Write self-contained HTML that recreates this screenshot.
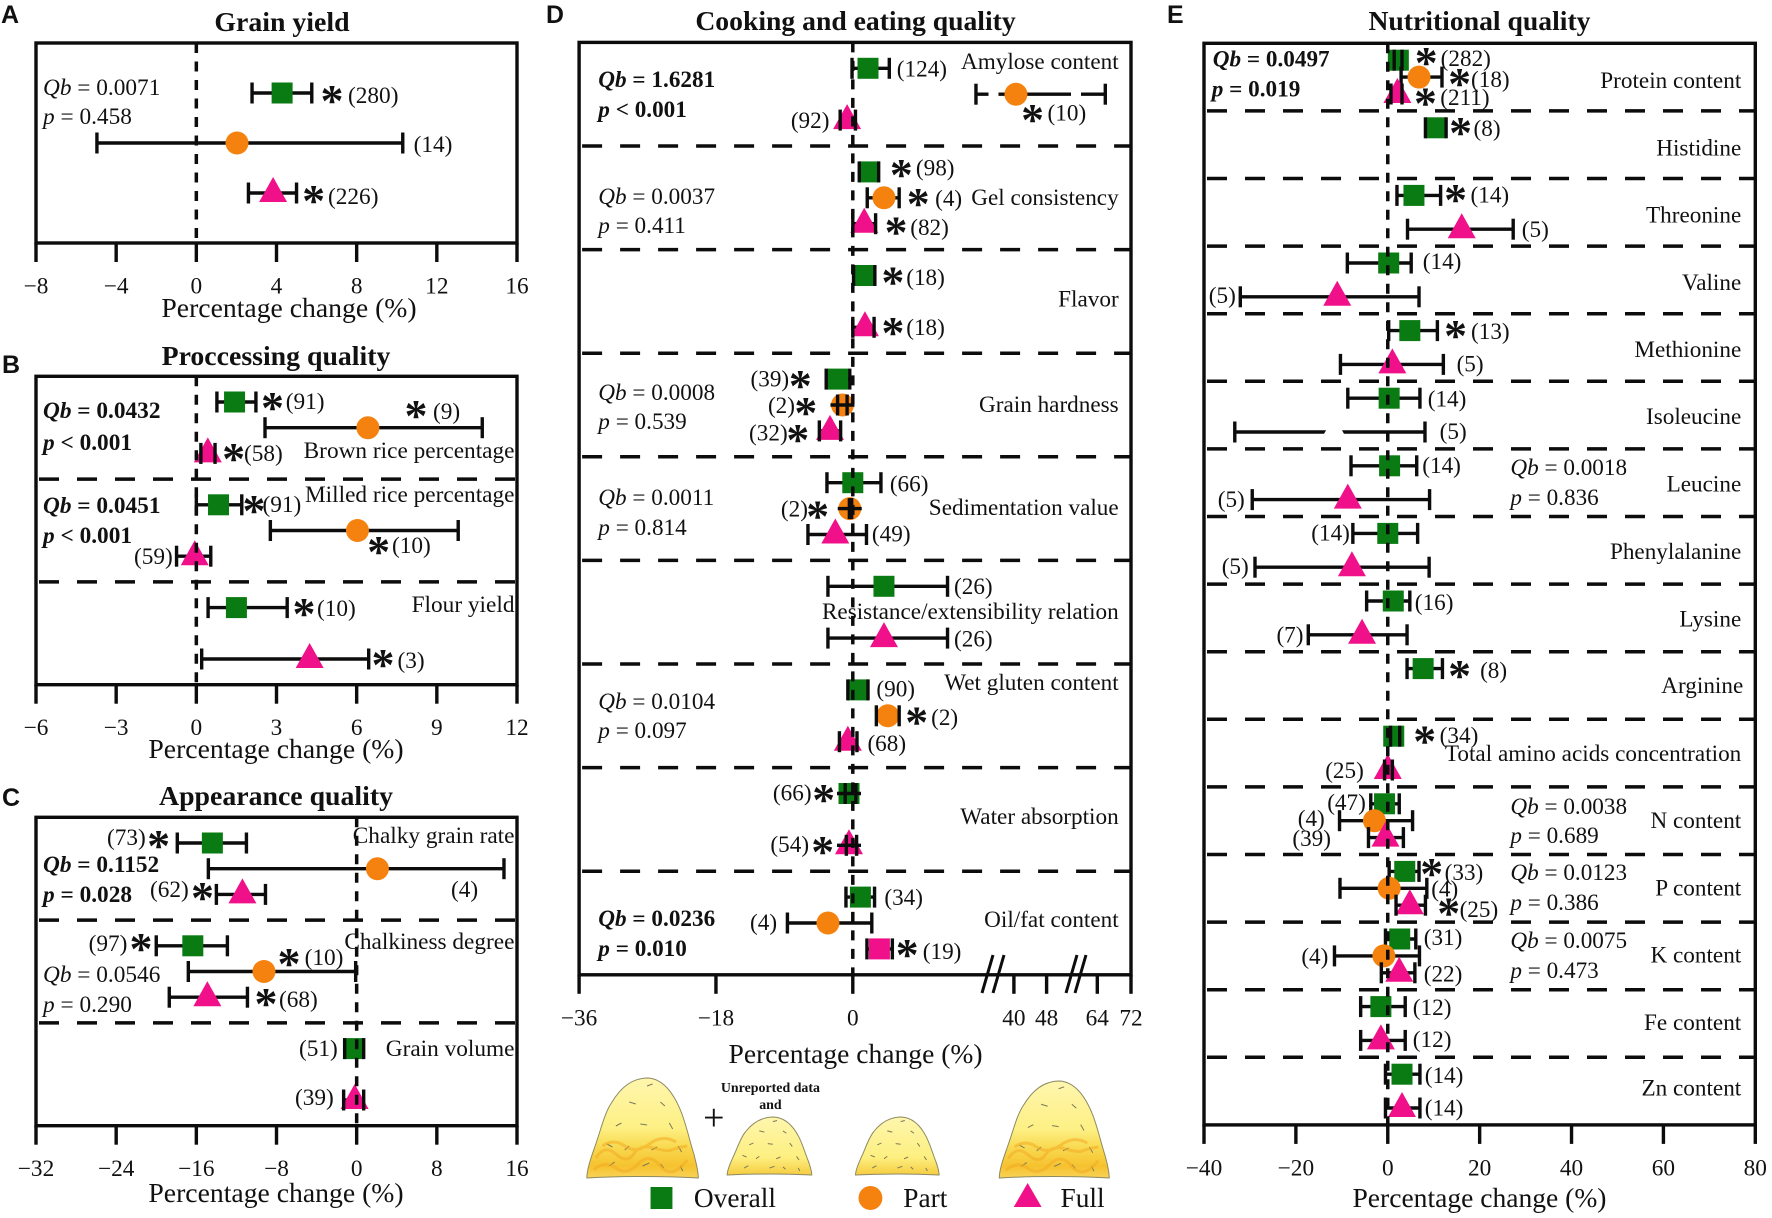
<!DOCTYPE html>
<html lang="en">
<head>
<meta charset="utf-8">
<title>Percentage change in rice quality traits</title>
<style>
html,body{margin:0;padding:0;background:#fff}
svg{display:block;font-family:"Liberation Serif",serif;fill:#111}
text{font-size:23.3px}
.title{font-size:27.8px;font-weight:bold;text-anchor:middle}
.axt{font-size:27.7px;text-anchor:middle}
.tick{text-anchor:middle}
.letter{font-family:"Liberation Sans",sans-serif;font-weight:bold;font-size:25px}
.c{text-anchor:end}
.s{font-family:"Liberation Serif",serif;font-size:46px;text-anchor:middle;font-weight:bold;transform:translateY(21px)}
.b{font-weight:bold}
.i{font-style:italic}
.leg{font-size:27.5px}
</style>
</head>
<body>
<svg id="figure" xmlns="http://www.w3.org/2000/svg" width="1772" height="1218" viewBox="0 0 1772 1218">
<defs>
<linearGradient id="bigFill" x1="0" y1="0" x2="0" y2="1"><stop offset="0" stop-color="#fef6ae"/><stop offset=".5" stop-color="#fdf084"/><stop offset=".68" stop-color="#f9da52"/><stop offset=".88" stop-color="#f6c22f"/><stop offset="1" stop-color="#f8d256"/></linearGradient>
<linearGradient id="smallFill" x1="0" y1="0" x2="0" y2="1"><stop offset="0" stop-color="#fef6ae"/><stop offset=".7" stop-color="#fdef80"/><stop offset="1" stop-color="#f6cc40"/></linearGradient>
<g id="mound"><path d="M0,100 C0,90 5,76 8,66 C13,50 16,35 22,25 C30,10 40,0 55,0 C68,1 78,15 85,35 C90,50 93,66 96,76 C98,85 100,92 100,100 C70,98 30,98 0,100 Z" stroke="#8d8a62" stroke-width="1" vector-effect="non-scaling-stroke"/><path d="M54,8l5,-2M38,24l6,2M66,24l4,4M26,48l5,-3M74,45l3,6M48,46l6,1M18,66l5,3M34,72l4,-4M58,72l5,-3M82,68l3,6M20,88l5,-4M50,88l6,-3M84,88l2,5M66,86l3,4" fill="none" stroke="#7d7a58" stroke-width="1" vector-effect="non-scaling-stroke"/></g>
<g id="moundTexture"><path d="M8,80q8,-14 18,-4t16,0t18,-6t16,2t14,-4M6,92q10,-10 20,-2t20,-4t20,2t24,-6M14,68q10,-8 20,0t22,-2t24,-2" fill="none" stroke="#f2ab22" stroke-width="3" stroke-opacity=".55" vector-effect="non-scaling-stroke"/></g>
</defs>

<g id="panelA"></g>
<g id="panelB"></g>
<g id="panelC"></g>
<g id="panelD"></g>
<g id="panelE"></g>

<!-- Panel A -->
<text class="letter" x="1" y="23">A</text>
<text class="title" x="282" y="31">Grain yield</text>
<text class="axt" x="289" y="317">Percentage change (%)</text>
<text x="43" y="95"><tspan class="i">Qb</tspan> = 0.0071</text>
<text x="43" y="124"><tspan class="i">p</tspan> = 0.458</text>
<text class="s" x="332" y="95">*</text>
<text x="348" y="103">(280)</text>
<text x="413.6" y="152">(14)</text>
<text class="s" x="313.6" y="195">*</text>
<text x="328" y="204">(226)</text>

<!-- Panel B -->
<text class="letter" x="2" y="373">B</text>
<text class="title" x="276" y="365">Proccessing quality</text>
<text class="axt" x="276" y="758">Percentage change (%)</text>
<text class="b" x="43" y="418"><tspan class="i">Qb</tspan> = 0.0432</text>
<text class="b" x="43" y="450"><tspan class="i">p</tspan> &lt; 0.001</text>
<text class="b" x="43" y="513"><tspan class="i">Qb</tspan> = 0.0451</text>
<text class="b" x="43" y="543"><tspan class="i">p</tspan> &lt; 0.001</text>
<text class="c" x="514.5" y="458">Brown rice percentage</text>
<text class="c" x="514.5" y="502">Milled rice percentage</text>
<text class="c" x="514.5" y="612">Flour yield</text>
<text class="s" x="272.5" y="402">*</text>
<text x="285.7" y="409">(91)</text>
<text class="s" x="416" y="410">*</text>
<text x="433" y="419">(9)</text>
<text class="s" x="233.6" y="453">*</text>
<text x="244" y="461">(58)</text>
<text class="s" x="254" y="505">*</text>
<text x="262.5" y="512">(91)</text>
<text class="s" x="378.6" y="546">*</text>
<text x="392" y="553">(10)</text>
<text x="134" y="564">(59)</text>
<text class="s" x="304" y="608">*</text>
<text x="317" y="616">(10)</text>
<text class="s" x="383" y="659">*</text>
<text x="397.5" y="668">(3)</text>

<!-- Panel C -->
<text class="letter" x="2" y="806">C</text>
<text class="title" x="276" y="805">Appearance quality</text>
<text class="axt" x="276" y="1202">Percentage change (%)</text>
<text class="b" x="43" y="872"><tspan class="i">Qb</tspan> = 0.1152</text>
<text class="b" x="43" y="902"><tspan class="i">p</tspan> = 0.028</text>
<text x="43" y="982"><tspan class="i">Qb</tspan> = 0.0546</text>
<text x="43" y="1012"><tspan class="i">p</tspan> = 0.290</text>
<text class="c" x="514.5" y="843">Chalky grain rate</text>
<text class="c" x="514.5" y="949">Chalkiness degree</text>
<text class="c" x="514.5" y="1056">Grain volume</text>
<text x="107" y="845">(73)</text>
<text class="s" x="158.6" y="840">*</text>
<text x="451" y="897">(4)</text>
<text x="150" y="897">(62)</text>
<text class="s" x="202.5" y="892">*</text>
<text x="88.6" y="951">(97)</text>
<text class="s" x="141" y="943">*</text>
<text class="s" x="289" y="958">*</text>
<text x="304.6" y="965">(10)</text>
<text class="s" x="266" y="998">*</text>
<text x="279" y="1007">(68)</text>
<text x="299" y="1056">(51)</text>
<text x="295" y="1105">(39)</text>

<!-- Panel D -->
<g transform="translate(2.8,0) scale(.995,1)">
<text class="letter" x="546" y="23">D</text>
<text class="title" x="857" y="30">Cooking and eating quality</text>
<text class="axt" x="857" y="1063">Percentage change (%)</text>
<text class="b" x="598.5" y="87"><tspan class="i">Qb</tspan> = 1.6281</text>
<text class="b" x="598.5" y="117"><tspan class="i">p</tspan> &lt; 0.001</text>
<text x="598.5" y="204"><tspan class="i">Qb</tspan> = 0.0037</text>
<text x="598.5" y="233"><tspan class="i">p</tspan> = 0.411</text>
<text x="598.5" y="400"><tspan class="i">Qb</tspan> = 0.0008</text>
<text x="598.5" y="429"><tspan class="i">p</tspan> = 0.539</text>
<text x="598.5" y="505"><tspan class="i">Qb</tspan> = 0.0011</text>
<text x="598.5" y="535"><tspan class="i">p</tspan> = 0.814</text>
<text x="598.5" y="709"><tspan class="i">Qb</tspan> = 0.0104</text>
<text x="598.5" y="738"><tspan class="i">p</tspan> = 0.097</text>
<text class="b" x="598.5" y="926"><tspan class="i">Qb</tspan> = 0.0236</text>
<text class="b" x="598.5" y="956"><tspan class="i">p</tspan> = 0.010</text>
<text class="c" x="1121.5" y="69">Amylose content</text>
<text class="c" x="1121.5" y="205">Gel consistency</text>
<text class="c" x="1121.5" y="306.7">Flavor</text>
<text class="c" x="1121.5" y="412">Grain hardness</text>
<text class="c" x="1121.5" y="515">Sedimentation value</text>
<text class="c" x="1121.5" y="619">Resistance/extensibility relation</text>
<text class="c" x="1121.5" y="690">Wet gluten content</text>
<text class="c" x="1121.5" y="824">Water absorption</text>
<text class="c" x="1121.5" y="927">Oil/fat content</text>
<text x="898.5" y="76.7">(124)</text>
<text class="s" x="1035" y="114">*</text>
<text x="1050" y="120.7">(10)</text>
<text x="792" y="128">(92)</text>
<text class="s" x="903" y="169">*</text>
<text x="917.7" y="175.7">(98)</text>
<text class="s" x="920" y="198">*</text>
<text x="937" y="206">(4)</text>
<text class="s" x="897.7" y="226.7">*</text>
<text x="912" y="235">(82)</text>
<text class="s" x="894.6" y="276.7">*</text>
<text x="908" y="285">(18)</text>
<text class="s" x="894.6" y="327">*</text>
<text x="908" y="335">(18)</text>
<text x="751.5" y="386.7">(39)</text>
<text class="s" x="801.5" y="380">*</text>
<text x="769" y="413">(2)</text>
<text class="s" x="807" y="407">*</text>
<text x="750" y="440.7">(32)</text>
<text class="s" x="799" y="434">*</text>
<text x="891.5" y="491.7">(66)</text>
<text x="782" y="516.7">(2)</text>
<text class="s" x="819" y="510.7">*</text>
<text x="873.5" y="541.7">(49)</text>
<text x="956" y="594">(26)</text>
<text x="956" y="646.7">(26)</text>
<text x="878" y="696.7">(90)</text>
<text class="s" x="918.5" y="716.7">*</text>
<text x="933" y="725">(2)</text>
<text x="869" y="751">(68)</text>
<text x="774" y="800.7">(66)</text>
<text class="s" x="825" y="794">*</text>
<text x="771.5" y="852">(54)</text>
<text class="s" x="824" y="846">*</text>
<text x="886" y="905">(34)</text>
<text x="751" y="930">(4)</text>
<text class="s" x="909" y="949">*</text>
<text x="924.6" y="959">(19)</text>

<!-- Illustration and legend -->
<g>
<g transform="translate(587,1078) scale(1.12,1)" fill="url(#bigFill)"><use href="#mound"/><use href="#moundTexture"/></g>
<g transform="translate(728,1117) scale(.85,.58)" fill="url(#smallFill)"><use href="#mound"/></g>
<g transform="translate(857,1117) scale(.84,.58)" fill="url(#smallFill)"><use href="#mound"/></g>
<g transform="translate(1001.5,1081) scale(1.105,.97)" fill="url(#bigFill)"><use href="#mound"/><use href="#moundTexture"/></g>
</g>
<text x="714.6" y="1130" style="font-size:38px;text-anchor:middle">+</text>
<text x="771.5" y="1092" style="font-size:14px;font-weight:bold;text-anchor:middle">Unreported data</text>
<text x="771.5" y="1109" style="font-size:14px;font-weight:bold;text-anchor:middle">and</text>
<rect x="651" y="1187" width="22" height="22" fill="#0a7a12"/>
<text class="leg" x="694.6" y="1207">Overall</text>
<circle cx="872" cy="1198" r="12" fill="#f5820f"/>
<text class="leg" x="905" y="1207">Part</text>
<polygon points="1030,1183 1044,1207 1016,1207" fill="#f0108a"/>
<text class="leg" x="1063" y="1207">Full</text>
</g>

<!-- Panel E -->
<g transform="translate(5.45,0) scale(.9953,1)">
<text class="letter" x="1167" y="23">E</text>
<text class="title" x="1481" y="30">Nutritional quality</text>
<text class="axt" x="1481" y="1207">Percentage change (%)</text>
<text class="b" x="1213" y="66.7"><tspan class="i">Qb</tspan> = 0.0497</text>
<text class="b" x="1212" y="96.7"><tspan class="i">p</tspan> = 0.019</text>
<text x="1512" y="475"><tspan class="i">Qb</tspan> = 0.0018</text>
<text x="1512" y="505"><tspan class="i">p</tspan> = 0.836</text>
<text x="1512" y="814"><tspan class="i">Qb</tspan> = 0.0038</text>
<text x="1512" y="843"><tspan class="i">p</tspan> = 0.689</text>
<text x="1512" y="880"><tspan class="i">Qb</tspan> = 0.0123</text>
<text x="1512" y="910"><tspan class="i">p</tspan> = 0.386</text>
<text x="1512" y="948"><tspan class="i">Qb</tspan> = 0.0075</text>
<text x="1512" y="978"><tspan class="i">p</tspan> = 0.473</text>
<text class="c" x="1744" y="88">Protein content</text>
<text class="c" x="1744" y="155.7">Histidine</text>
<text class="c" x="1744" y="222.7">Threonine</text>
<text class="c" x="1744" y="290">Valine</text>
<text class="c" x="1744" y="357">Methionine</text>
<text class="c" x="1744" y="424">Isoleucine</text>
<text class="c" x="1744" y="491.7">Leucine</text>
<text class="c" x="1744" y="559">Phenylalanine</text>
<text class="c" x="1744" y="626.7">Lysine</text>
<text class="c" x="1746" y="693">Arginine</text>
<text class="c" x="1744" y="761">Total amino acids concentration</text>
<text class="c" x="1744" y="828">N content</text>
<text class="c" x="1744" y="895.7">P content</text>
<text class="c" x="1744" y="962.7">K content</text>
<text class="c" x="1744" y="1030">Fe content</text>
<text class="c" x="1744" y="1095.7">Zn content</text>
<text class="s" x="1427.5" y="57">*</text>
<text x="1442" y="66">(282)</text>
<text class="s" x="1461" y="78">*</text>
<text x="1472.5" y="87">(18)</text>
<text class="s" x="1426.7" y="97.7">*</text>
<text x="1441.6" y="105">(211)</text>
<text class="s" x="1462" y="127">*</text>
<text x="1475" y="136">(8)</text>
<text class="s" x="1457" y="194">*</text>
<text x="1472" y="202.7">(14)</text>
<text x="1523.5" y="237">(5)</text>
<text x="1424" y="269">(14)</text>
<text x="1209" y="303">(5)</text>
<text class="s" x="1457" y="330">*</text>
<text x="1472.5" y="339">(13)</text>
<text x="1458" y="371.7">(5)</text>
<text x="1429" y="406.7">(14)</text>
<text x="1441" y="439">(5)</text>
<text x="1423.5" y="473">(14)</text>
<text x="1218" y="507">(5)</text>
<text x="1312" y="540.7">(14)</text>
<text x="1222" y="574">(5)</text>
<text x="1416" y="610">(16)</text>
<text x="1277" y="642.7">(7)</text>
<text class="s" x="1461" y="670">*</text>
<text x="1481.6" y="678">(8)</text>
<text class="s" x="1426" y="735.7">*</text>
<text x="1441" y="743">(34)</text>
<text x="1326" y="778">(25)</text>
<text x="1328" y="810">(47)</text>
<text x="1298.4" y="826">(4)</text>
<text x="1293" y="846">(39)</text>
<text class="s" x="1433" y="868">*</text>
<text x="1446" y="880">(33)</text>
<text x="1432.5" y="896.7">(4)</text>
<text class="s" x="1450" y="907.7">*</text>
<text x="1461" y="917">(25)</text>
<text x="1425" y="945">(31)</text>
<text x="1302" y="964">(4)</text>
<text x="1425" y="981.7">(22)</text>
<text x="1414" y="1015">(12)</text>
<text x="1414" y="1047">(12)</text>
<text x="1426" y="1083">(14)</text>
<text x="1426" y="1115.7">(14)</text>
</g>
</svg>

<script>
/* ---------- Panel A: grain yield ---------- */
const aCategories = ['Grain yield'];
const aTicks = [-8, -4, 0, 4, 8, 12, 16];
const aOverallMean = [4.28];
const aOverallLow = [2.78];
const aOverallHigh = [5.76];
const aPartMean = [2.03];
const aPartLow = [-4.96];
const aPartHigh = [10.3];
const aFullMean = [3.83];
const aFullLow = [2.6];
const aFullHigh = [5.0];

/* ---------- Panel B: processing quality ---------- */
const bCategories = ['Brown rice percentage', 'Milled rice percentage', 'Flour yield'];
const bTicks = [-6, -3, 0, 3, 6, 9, 12];
const bOverallMean = [1.43, 0.83, 1.5];
const bOverallLow = [0.77, 0, 0.44];
const bOverallHigh = [2.23, 1.7, 3.4];
const bPartMean = [6.42, 6.03, null];
const bPartLow = [2.57, 2.77, null];
const bPartHigh = [10.7, 9.8, null];
const bFullMean = [0.43, -0.06, 4.24];
const bFullLow = [0.17, -0.74, 0.2];
const bFullHigh = [0.7, 0.54, 6.45];

/* ---------- Panel C: appearance quality ---------- */
const cCategories = ['Chalky grain rate', 'Chalkiness degree', 'Grain volume'];
const cTicks = [-32, -24, -16, -8, 0, 8, 16];
const cOverallMean = [-14.4, -16.35, -0.3];
const cOverallLow = [-17.9, -20, -1.2];
const cOverallHigh = [-11, -12.9, 0.7];
const cPartMean = [2.07, -9.25, null];
const cPartLow = [-14.8, -16.8, null];
const cPartHigh = [14.7, -0.1, null];
const cFullMean = [-11.4, -14.9, -0.2];
const cFullLow = [-14, -18.7, -1.3];
const cFullHigh = [-9.1, -10.9, 0.7];

/* ---------- Panel D: cooking and eating quality (broken axis) ---------- */
const dCategories = ['Amylose content', 'Gel consistency', 'Flavor', 'Grain hardness', 'Sedimentation value', 'Resistance/extensibility relation', 'Wet gluten content', 'Water absorption', 'Oil/fat content'];
const dTicks = [-36, -18, 0, 40, 48, 64, 72];
const dOverallMean = [2, 2.2, 1.6, -2, 0, 4.1, 0.75, -0.5, 1];
const dOverallLow = [-0.1, 0.85, 0.1, -3.5, -3.4, -3.27, -0.65, -1, -0.9];
const dOverallHigh = [4.8, 3.4, 2.9, -0.4, 3.7, 12.46, 2, 0.4, 2.86];
const dPartMean = [40.5, 4.1, null, -1.36, -0.4, null, 4.6, null, -3.27];
const dPartLow = [16.2, 1.9, null, -2, -0.45, null, 3.1, null, -8.6];
const dPartHigh = [65.9, 6.1, null, -0.75, -0.15, null, 6.1, null, 2.5];
const dFullMean = [-0.75, 1.5, 1.6, -3, -2.3, 4.1, -0.65, -0.5, 3.5];
const dFullLow = [-1.66, 0, 0, -4.4, -5.9, -3.27, -1.76, -0.85, 1.86];
const dFullHigh = [0.35, 3, 2.8, -1.6, 1.8, 12.46, 0.55, 0.5, 5.2];

/* ---------- Panel E: nutritional quality ---------- */
const eCategories = ['Protein content', 'Histidine', 'Threonine', 'Valine', 'Methionine', 'Isoleucine', 'Leucine', 'Phenylalanine', 'Lysine', 'Arginine', 'Total amino acids concentration', 'N content', 'P content', 'K content', 'Fe content', 'Zn content'];
const eTicks = [-40, -20, 0, 20, 40, 60, 80];
const eOverallMean = [2.3, 10.4, 5.7, 0.2, 4.8, 0.3, 0.4, 0, 1.2, 7.7, 1.3, -0.7, 3.7, 2.6, -1.5, 3.1];
const eOverallLow = [1.4, 8.2, 2, -8.8, 0.2, -8.7, -8, -7.6, -4.6, 4.2, 0.6, -3.7, 0.3, -0.5, -5.9, -0.5];
const eOverallHigh = [3.1, 12.7, 11.5, 5.1, 10.8, 7, 6.3, 6.5, 4.8, 11.9, 2.6, 2.5, 6.8, 6.1, 3.8, 7];
const ePartMean = [6.8, null, null, null, null, null, null, null, null, null, null, -2.9, 0.3, -0.85, null, null];
const ePartLow = [2.9, null, null, null, null, null, null, null, null, null, null, -10.5, -10.4, -11.6, null, null];
const ePartHigh = [11.8, null, null, null, null, null, null, null, null, null, null, 5.4, 8.5, 6.9, null, null];
const eFullMean = [2.1, null, 16.1, -11, 1, -11.7, -8.7, -7.8, -5.6, null, 0, -0.5, 4.8, 2.5, -1.5, 3.1];
const eFullLow = [0.7, null, 4.3, -32.1, -10.3, -33.3, -29.5, -28.9, -17.3, null, -0.7, -4.2, 1.8, -1.4, -5.9, -0.5];
const eFullHigh = [3.1, null, 27.3, 6.8, 12.1, 8.1, 9.1, 9, 4.2, null, 1, 3.4, 8.2, 5.9, 3.8, 7];

/* ---------- Axis functions ---------- */
const SVGNS = 'http://www.w3.org/2000/svg';
const INK = '#0c0c0c';
const GREEN = '#0a7a12';
const ORANGE = '#f5820f';
const PINK = '#f0108a';

function linear(d0, d1, r0, r1) {
  return v => r0 + (v - d0) * (r1 - r0) / (d1 - d0);
}
function brokenAxis(v) {
  if (v <= 18.4) return linear(-36, 0, 579.1, 852.8)(v);
  if (v <= 40) return linear(18.4, 40, 992.6, 1013.9)(v);
  if (v <= 48) return linear(40, 48, 1013.9, 1046.6)(v);
  if (v <= 64) return linear(48, 64, 1046.6, 1097.3)(v);
  return linear(64, 72, 1097.3, 1131)(v);
}
function hasCrossbar(seriesName, cat) {
  if (seriesName === 'part') return cat === 'Grain hardness' || cat === 'Sedimentation value';
  return cat === 'Water absorption';
}
function mk(tag, attrs, parent) {
  const el = document.createElementNS(SVGNS, tag);
  for (const k in attrs) el.setAttribute(k, attrs[k]);
  parent.appendChild(el);
  return el;
}
function slug(s) {
  return s.toLowerCase().replace(/[^a-z0-9]+/g, '-');
}
function drawLine(parent, x1, y1, x2, y2, width, dash, name) {
  const attrs = { x1: x1, y1: y1, x2: x2, y2: y2, stroke: INK, 'stroke-width': width };
  if (dash) attrs['stroke-dasharray'] = dash;
  const el = mk('line', attrs, parent);
  
  
  return el;
}
function drawMarker(parent, shape, cx, cy, fill, name) {
  let el;
  if (shape === 'square') {
    el = mk('rect', { x: cx - 10.5, y: cy - 10.5, width: 21, height: 21, fill: fill }, parent);
  } else if (shape === 'circle') {
    el = mk('circle', { cx: cx, cy: cy, r: 11.5, fill: fill }, parent);
  } else {
    el = mk('polygon', { points: (cx) + ',' + (cy - 16) + ' ' + (cx + 14) + ',' + (cy + 9) + ' ' + (cx - 14) + ',' + (cy + 9), fill: fill }, parent);
  }
  
  
  return el;
}
function drawPanel(p) {
  const host = document.getElementById(p.id);
  const rowY = i => p.y0 + p.step * i;
  const rows = p.categories.length * 4 - 1;
  const top = rowY(-1);
  const bottom = rowY(rows);
  const left = p.x(p.ticks[0]);
  const right = p.x(p.ticks[p.ticks.length - 1]);

  for (let k = 1; k < p.categories.length; k++) {
    drawLine(host, left + 3, rowY(4 * k - 1), right, rowY(4 * k - 1), 3.5, '20 18', 'group-separator');
  }
  p.series.forEach(s => {
    p.categories.forEach((cat, g) => {
      if (s.mean[g] === null) return;
      const y = rowY(4 * g + s.slot);
      const lo = p.x(s.low[g]);
      const hi = p.x(s.high[g]);
      const mid = p.x(s.mean[g]);
      const base = s.name + '-' + slug(cat);
      drawLine(host, lo, y, hi, y, 3.4, null, base + '-whisker');
      let shape = s.shape;
      let fill = s.color;
      if (s.name === 'full' && cat === 'Oil/fat content') shape = 'square';
      if (s.name === 'full' && cat === 'Isoleucine') fill = '#ffffff';
      drawMarker(host, shape, mid, y, fill, base + '-marker');
      drawLine(host, lo, y - 10.5, lo, y + 10.5, 3.4, null, base + '-ci-low');
      drawLine(host, hi, y - 10.5, hi, y + 10.5, 3.4, null, base + '-ci-high');
      if (hasCrossbar(s.name, cat)) {
        drawLine(host, mid - 12, y, mid + 12, y, 3.4, null, base + '-crossbar');
      }
    });
  });
  if (p.after) p.after(host, rowY);
  drawLine(host, p.x(0), top, p.x(0), bottom, 3.5, '10 8.5', 'zero-reference-line');

  const frame = mk('rect', { x: left, y: top, width: right - left, height: bottom - top, fill: 'none', stroke: INK, 'stroke-width': 3.4 }, host);
  
  

  p.ticks.forEach(t => {
    drawLine(host, p.x(t), bottom, p.x(t), bottom + 19, 3.4, null, 'x-tick');
    const label = mk('text', { x: p.x(t), y: bottom + 50.5, class: 'tick' }, host);
    
    
    label.textContent = String(t).replace('-', '\u2212');
  });
}
function seriesOf(oM, oL, oH, pM, pL, pH, fM, fL, fH) {
  return [
    { name: 'overall', slot: 0, shape: 'square', color: GREEN, mean: oM, low: oL, high: oH },
    { name: 'part', slot: 1, shape: 'circle', color: ORANGE, mean: pM, low: pL, high: pH },
    { name: 'full', slot: 2, shape: 'triangle', color: PINK, mean: fM, low: fL, high: fH }
  ];
}

drawPanel({ id: 'panelA', categories: aCategories, ticks: aTicks, x: linear(-8, 16, 36, 517), y0: 93, step: 50,
  series: seriesOf(aOverallMean, aOverallLow, aOverallHigh, aPartMean, aPartLow, aPartHigh, aFullMean, aFullLow, aFullHigh) });
drawPanel({ id: 'panelB', categories: bCategories, ticks: bTicks, x: linear(-6, 12, 36, 517), y0: 402, step: 25.7,
  series: seriesOf(bOverallMean, bOverallLow, bOverallHigh, bPartMean, bPartLow, bPartHigh, bFullMean, bFullLow, bFullHigh) });
drawPanel({ id: 'panelC', categories: cCategories, ticks: cTicks, x: linear(-32, 16, 36, 517), y0: 843, step: 25.7,
  series: seriesOf(cOverallMean, cOverallLow, cOverallHigh, cPartMean, cPartLow, cPartHigh, cFullMean, cFullLow, cFullHigh) });
drawPanel({ id: 'panelD', categories: dCategories, ticks: dTicks, x: brokenAxis, y0: 68.3, step: 25.9,
  series: seriesOf(dOverallMean, dOverallLow, dOverallHigh, dPartMean, dPartLow, dPartHigh, dFullMean, dFullLow, dFullHigh),
  after: function (host, rowY) {
    [988.5, 1071].forEach(gx => {
      const gap = mk('rect', { x: gx, y: rowY(1) - 3, width: 10, height: 6, fill: '#fff' }, host);
      
      
    });
    [982, 993, 1066, 1075].forEach(bx => {
      drawLine(host, bx, 993, bx + 11, 955, 3, null, 'axis-break-mark');
    });
  } });
drawPanel({ id: 'panelE', categories: eCategories, ticks: eTicks, x: linear(-40, 80, 1204, 1755.3), y0: 60.2, step: 16.9,
  series: seriesOf(eOverallMean, eOverallLow, eOverallHigh, ePartMean, ePartLow, ePartHigh, eFullMean, eFullLow, eFullHigh) });
</script>
</body>
</html>
